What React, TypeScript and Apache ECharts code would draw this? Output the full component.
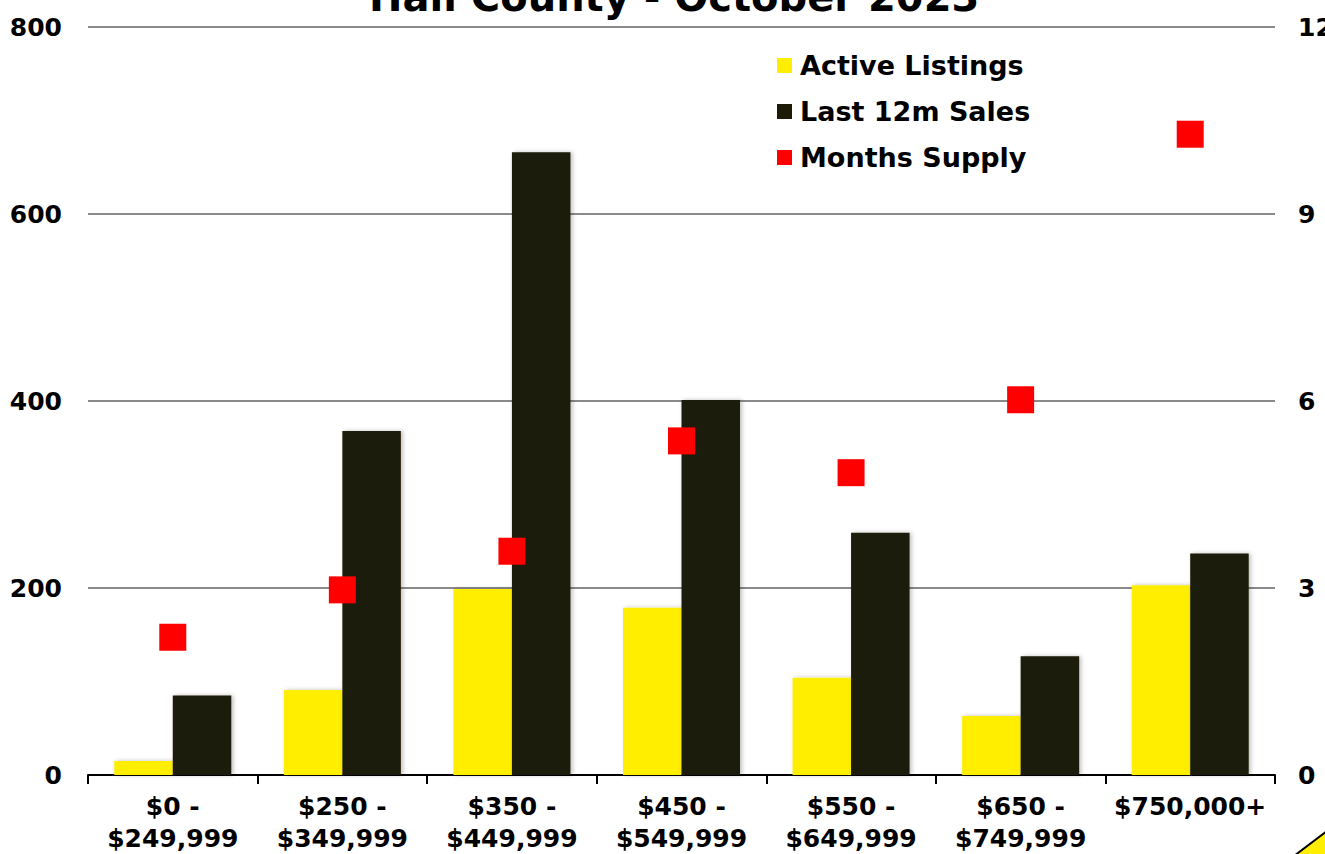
import React, { useEffect, useRef } from "react";
import * as echarts from "echarts";

const categories = [
  "$0 -\n$249,999",
  "$250 -\n$349,999",
  "$350 -\n$449,999",
  "$450 -\n$549,999",
  "$550 -\n$649,999",
  "$650 -\n$749,999",
  "$750,000+",
];
const activeListings = [15, 91, 199, 179, 104, 63, 203];
const last12mSales = [85, 368, 666, 401, 259, 127, 237];
const monthsSupply = [2.21, 2.97, 3.59, 5.36, 4.85, 6.02, 10.28];

const FONT = "'DejaVu Sans', Verdana, sans-serif";

export default function App() {
  const ref = useRef<HTMLDivElement>(null);
  useEffect(() => {
    const chart = echarts.init(ref.current!, null, { renderer: "svg" });
    chart.setOption({
      animation: false,
      backgroundColor: "#ffffff",
      textStyle: { fontFamily: FONT },
      title: {
        text: "Hall County - October 2023",
        left: 364,
        top: -28,
        textStyle: { fontSize: 40, fontWeight: "bold", color: "#000", fontFamily: FONT },
      },
      legend: {
        orient: "vertical",
        left: 772,
        top: 47,
        itemGap: 19,
        itemWidth: 15,
        itemHeight: 15,
        selectedMode: false,
        textStyle: { fontSize: 27, fontWeight: "bold", color: "#000", fontFamily: FONT, padding: [0, 0, 0, 3] },
        data: [
          { name: "Active Listings", icon: "rect" },
          { name: "Last 12m Sales", icon: "rect" },
          { name: "Months Supply", icon: "rect" },
        ],
      },
      grid: { left: 88, right: 50, top: 27, bottom: 79, containLabel: false, outerBoundsMode: "none" },
      xAxis: {
        type: "category",
        data: categories,
        boundaryGap: true,
        axisLine: { show: true, lineStyle: { color: "#000", width: 2 } },
        axisTick: { show: true, alignWithLabel: false, length: 9, lineStyle: { color: "#000", width: 2 } },
        axisLabel: {
          interval: 0,
          margin: 15,
          fontSize: 25,
          fontWeight: "bold",
          color: "#000",
          lineHeight: 32,
          fontFamily: FONT,
        },
      },
      yAxis: [
        {
          type: "value",
          min: 0,
          max: 800,
          interval: 200,
          axisLine: { show: false },
          axisTick: { show: false },
          axisLabel: { margin: 26, fontSize: 25, fontWeight: "bold", color: "#000", fontFamily: FONT },
          splitLine: { show: true, lineStyle: { color: "#8a8a8a", width: 2 } },
        },
        {
          type: "value",
          min: 0,
          max: 12,
          interval: 3,
          axisLine: { show: false },
          axisTick: { show: false },
          axisLabel: { margin: 23, fontSize: 25, fontWeight: "bold", color: "#000", fontFamily: FONT },
          splitLine: { show: false },
        },
      ],
      series: [
        {
          name: "Active Listings",
          type: "bar",
          data: activeListings,
          barGap: "0%",
          barCategoryGap: "31%",
          itemStyle: { color: "#FFEE00", shadowColor: "rgba(0,0,0,0.25)", shadowBlur: 4, shadowOffsetX: 2 },
        },
        {
          name: "Last 12m Sales",
          type: "bar",
          data: last12mSales,
          barGap: "0%",
          barCategoryGap: "31%",
          itemStyle: { color: "#1E1A08", shadowColor: "rgba(0,0,0,0.25)", shadowBlur: 4, shadowOffsetX: 2 },
        },
        {
          name: "Months Supply",
          type: "scatter",
          yAxisIndex: 1,
          data: monthsSupply,
          symbol: "rect",
          symbolSize: 27,
          itemStyle: { color: "#FF0000", opacity: 1 },
        },
      ],
      graphic: [
        {
          type: "polygon",
          shape: { points: [[1294, 856], [1327, 831], [1327, 856]] },
          style: { fill: "#FFEE00", stroke: "#000", lineWidth: 2 },
        },
      ],
    });
    return () => chart.dispose();
  }, []);
  return <div ref={ref} style={{ position: "fixed", left: 0, top: 0, width: 1325, height: 854 }} />;
}
